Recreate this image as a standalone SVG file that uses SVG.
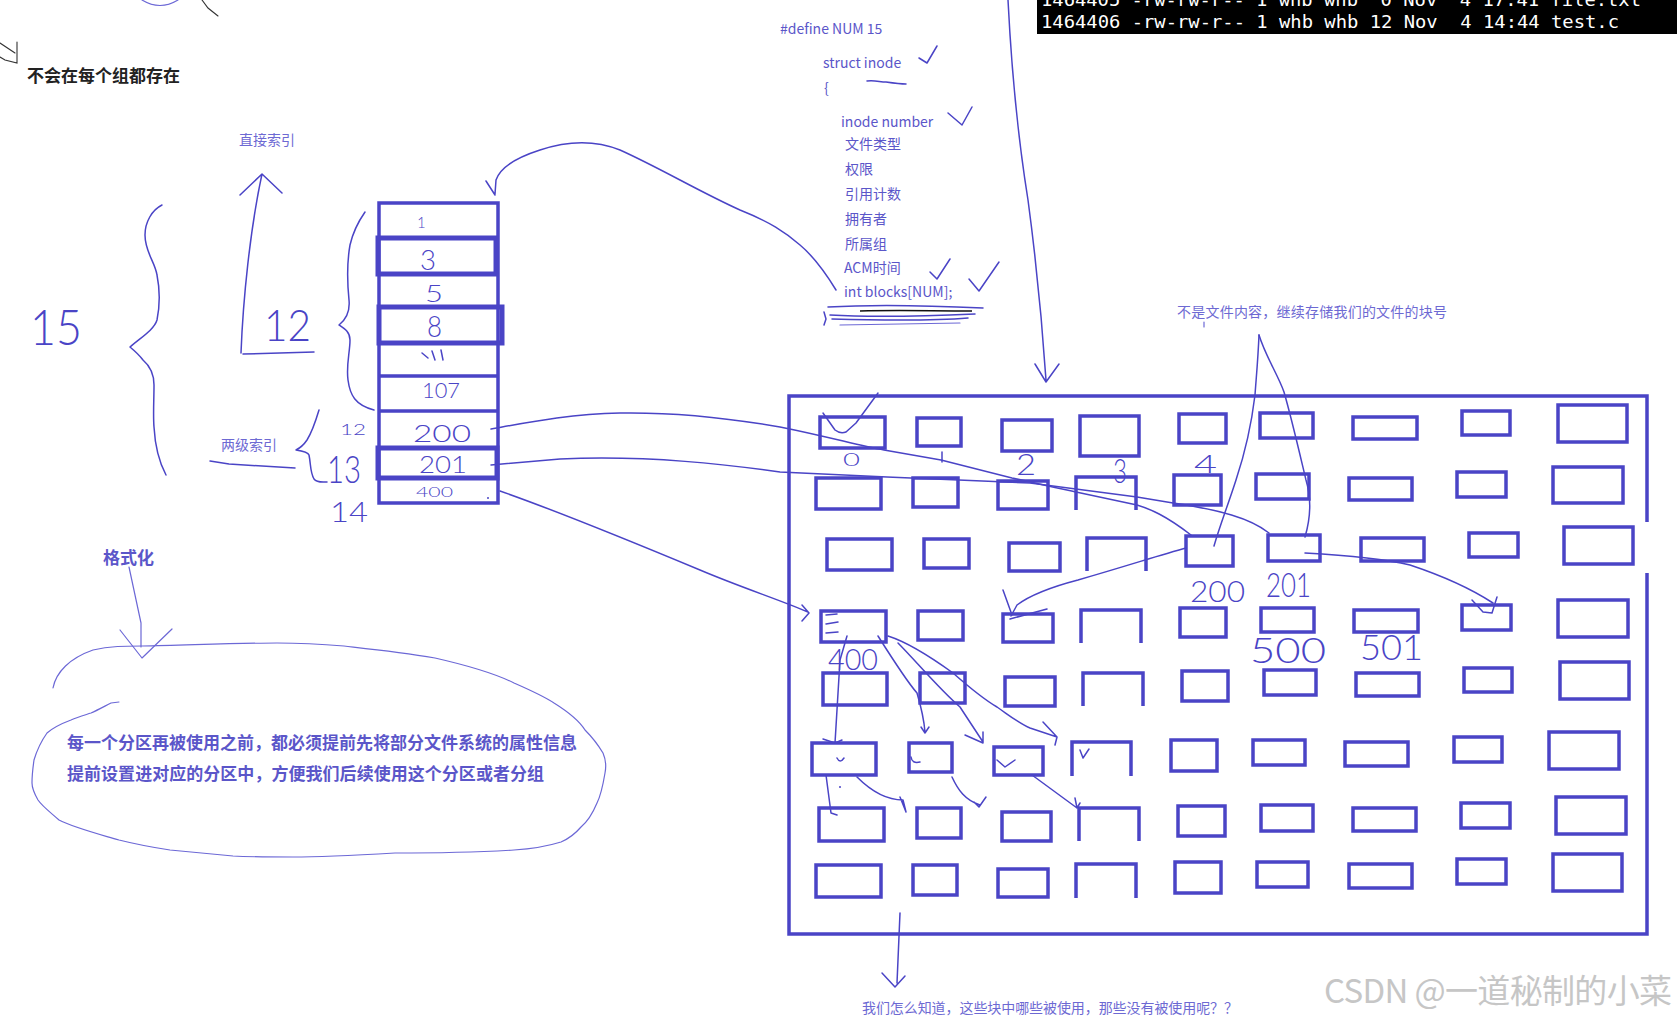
<svg xmlns="http://www.w3.org/2000/svg" width="1677" height="1021" viewBox="0 0 1677 1021">
<style>
.box{fill:none;stroke:#4a44c6;stroke-width:3.5}
.tb{fill:none;stroke:#4a44c6;stroke-width:3.5}
.tbk{fill:none;stroke:#4a44c6;stroke-width:5}
.pen{fill:none;stroke:#4a44c6;stroke-width:1.5;stroke-linecap:round;stroke-linejoin:round}
.thin{fill:none;stroke:#6c68d6;stroke-width:1.2;stroke-linecap:round;stroke-linejoin:round}
.dk{fill:none;stroke:#333;stroke-width:1.1;stroke-linecap:round}
.hand{font-family:Lato,Roboto,"DejaVu Sans",sans-serif;font-weight:300;fill:#4a44c6}
.t{font-family:"Noto Sans CJK SC","Noto Sans",sans-serif;font-size:14px;fill:#5b56c9}
.tl{font-family:"Noto Sans CJK SC","Noto Sans",sans-serif;font-size:14px;fill:#6d69d3}
.b{font-family:"Noto Sans CJK SC",sans-serif;font-size:17px;font-weight:bold}
.mono{font-family:"DejaVu Sans Mono","Liberation Mono",monospace;font-size:17px;fill:#fff;white-space:pre}
</style>

<g id="terminal">
<rect x="1037" y="0" width="640" height="34" fill="#000"/>
<text class="mono" x="1041" y="6" textLength="600" lengthAdjust="spacingAndGlyphs">1464405 -rw-rw-r-- 1 whb whb  0 Nov  4 17:41 file.txt</text>
<text class="mono" x="1041" y="28" textLength="578" lengthAdjust="spacingAndGlyphs">1464406 -rw-rw-r-- 1 whb whb 12 Nov  4 14:44 test.c</text>
</g>

<g id="top-left-marks">
<path class="thin" d="M142,0 Q160,11 178,0"/>
<path class="dk" d="M202,0 L208,8 L218,16"/>
<path class="dk" d="M0,43 L15,53 M17,42 L17,63 L5,60 L0,57"/>
<text class="b" x="27" y="82" fill="#222" textLength="153">不会在每个组都存在</text>
</g>

<g id="inode-struct">
<text class="t" x="780" y="34">#define NUM 15</text>
<text class="t" x="823" y="68">struct inode</text>
<text class="t" x="824" y="93" font-size="12">{</text>
<text class="t" x="841" y="127">inode number</text>
<text class="t" x="845" y="149">文件类型</text>
<text class="t" x="845" y="174">权限</text>
<text class="t" x="845" y="199">引用计数</text>
<text class="t" x="845" y="224">拥有者</text>
<text class="t" x="845" y="249">所属组</text>
<text class="t" x="844" y="273">ACM时间</text>
<text class="t" x="844" y="297">int blocks[NUM];</text>
<path class="pen" d="M919,58 L927,63 L937,46"/>
<path class="pen" d="M867,81 C875,80 880,82 886,82 C893,83 900,84 906,84"/>
<path class="pen" d="M948,113 L962,125 L972,107"/>
<path class="pen" d="M930,272 L937,279 L950,259"/>
<path class="pen" d="M969,279 L979,291 L999,262"/>
<path class="pen" d="M828,307 C860,305 900,304 983,308"/>
<path fill="none" stroke="#111" stroke-width="1.5" d="M860,311 C900,310 930,311 972,311"/>
<path class="pen" d="M830,315 C880,318 930,316 975,314"/>
<path class="pen" d="M832,319 C870,320 930,321 968,318"/>
<path class="thin" d="M840,325 L960,323"/>
<path class="pen" d="M824,312 L826,319 L824,325"/>
</g>

<g id="inode-table">
<rect class="tb" x="379" y="203" width="119" height="300"/>
<path class="tb" d="M379,274 H498 M379,376 H498 M379,411 H498"/>
<rect class="tbk" x="378" y="238" width="118" height="36"/>
<rect class="tbk" x="379" y="307" width="123" height="36"/>
<rect class="tbk" x="378" y="448" width="119" height="30"/>
<text class="hand" x="417" y="228" font-size="15" font-weight="400">1</text>
<text class="hand" x="420" y="270" font-size="27" textLength="16" lengthAdjust="spacingAndGlyphs">3</text>
<text class="hand" x="425" y="302" font-size="24" textLength="18" lengthAdjust="spacingAndGlyphs">5</text>
<text class="hand" x="427" y="337" font-size="29" textLength="15" lengthAdjust="spacingAndGlyphs">8</text>
<path class="pen" d="M422,353 L428,358 M432,351 L435,360 M441,350 L443,360"/>
<text class="hand" x="422" y="398" font-size="21" textLength="38" lengthAdjust="spacingAndGlyphs">107</text>
<text class="hand" x="413" y="442" font-size="24" textLength="58" lengthAdjust="spacingAndGlyphs">200</text>
<text class="hand" x="419" y="473" font-size="24" textLength="48" lengthAdjust="spacingAndGlyphs">201</text>
<text class="hand" x="416" y="497" font-size="14" font-weight="400" textLength="37" lengthAdjust="spacingAndGlyphs">400</text>
<circle cx="488" cy="498" r="1" fill="#4a44c6"/>
</g>

<g id="index-annotations">
<path class="pen" d="M162,205 C152,210 145,222 145,235 C145,252 155,262 157,275 C160,290 160,305 157,320 C154,330 140,338 130,347 C136,352 140,356 143,360 C150,366 154,375 154,385 C154,400 153,415 154,427 C155,445 158,460 166,475"/>
<text class="hand" x="30" y="345" font-size="50" textLength="52" lengthAdjust="spacingAndGlyphs">15</text>
<path class="pen" d="M241,353 C243,300 250,230 262,174 M240,195 L262,174 L282,193 M243,354 L314,352"/>
<text class="tl" x="239" y="145">直接索引</text>
<text class="hand" x="264" y="341" font-size="44" textLength="47" lengthAdjust="spacingAndGlyphs">12</text>
<path class="pen" d="M365,212 C358,222 353,232 350,245 C347,262 347,280 349,300 C350,310 348,318 339,325 C345,329 350,332 350,340 C350,352 346,365 348,380 C350,395 355,405 374,410"/>
<text class="tl" x="221" y="450">两级索引</text>
<path class="pen" d="M210,461 L229,464 L295,468"/>
<path class="pen" d="M319,410 C316,420 312,432 307,440 C303,446 298,449 296,450 C303,451 308,452 309,455 C311,465 310,472 314,479 C317,483 322,482 327,482"/>
<text class="hand" x="340" y="435" font-size="16" font-weight="400" textLength="26" lengthAdjust="spacingAndGlyphs">12</text>
<text class="hand" x="327" y="483" font-size="38" textLength="34" lengthAdjust="spacingAndGlyphs">13</text>
<text class="hand" x="330" y="522" font-size="28" textLength="38" lengthAdjust="spacingAndGlyphs">14</text>
</g>

<g id="format-note">
<text class="b" x="103" y="564" fill="#5b56c9">格式化</text>
<path class="thin" d="M129,567 L141,623 L141,647 M120,630 L142,658 L172,629"/>
<path class="thin" d="M53,688 C56,672 70,658 93,650 C110,646 125,646 142,646 C190,645 240,643 277,643 C300,643 320,644 344,646 C380,650 400,652 435,658 C470,666 500,676 514,683 C530,690 545,697 554,703 C570,713 580,722 585,730 C595,740 600,748 603,753 C606,760 606,768 605,773 C603,785 601,795 597,803 C592,815 587,822 581,827 C575,834 568,839 561,842 C545,847 530,849 514,850 C480,852 430,853 395,853 C360,855 320,857 293,857 C270,857 250,857 233,856 C210,854 190,852 170,850 C150,847 135,844 119,840 C95,833 75,828 59,820 C50,812 42,806 38,800 C34,793 32,788 32,783 C32,775 33,767 34,760 C37,750 42,740 47,733 C55,726 63,723 71,720 C78,717 85,715 91,713 C98,710 105,706 111,703 L119,702"/>
<text class="b" x="67" y="749" fill="#5b56c9" textLength="510">每一个分区再被使用之前，都必须提前先将部分文件系统的属性信息</text>
<text class="b" x="67" y="780" fill="#5b56c9" textLength="477">提前设置进对应的分区中，方便我们后续使用这个分区或者分组</text>
</g>

<g id="block-grid">
<path class="box" d="M1647,522 V396 H789 V934 H1647 V573"/>
<rect class="box" x="820" y="417" width="65" height="31"/>
<rect class="box" x="917" y="418" width="44" height="28"/>
<rect class="box" x="1002" y="420" width="50" height="31"/>
<rect class="box" x="1080" y="416" width="59" height="40"/>
<rect class="box" x="1179" y="414" width="47" height="29"/>
<rect class="box" x="1260" y="413" width="53" height="25"/>
<rect class="box" x="1353" y="417" width="64" height="22"/>
<rect class="box" x="1462" y="411" width="48" height="24"/>
<rect class="box" x="1558" y="405" width="69" height="37"/>

<rect class="box" x="816" y="478" width="65" height="31"/>
<rect class="box" x="913" y="478" width="45" height="29"/>
<rect class="box" x="998" y="481" width="50" height="28"/>
<path class="box" d="M1076,510 V477 H1136 V510"/>
<rect class="box" x="1174" y="475" width="47" height="30"/>
<rect class="box" x="1256" y="474" width="53" height="25"/>
<rect class="box" x="1349" y="478" width="63" height="22"/>
<rect class="box" x="1457" y="472" width="49" height="25"/>
<rect class="box" x="1553" y="467" width="70" height="36"/>

<rect class="box" x="827" y="539" width="65" height="31"/>
<rect class="box" x="924" y="539" width="45" height="29"/>
<rect class="box" x="1009" y="543" width="51" height="28"/>
<path class="box" d="M1087,571 V538 H1146 V571"/>
<rect class="box" x="1186" y="536" width="47" height="30"/>
<rect class="box" x="1268" y="535" width="52" height="26"/>
<rect class="box" x="1361" y="538" width="63" height="23"/>
<rect class="box" x="1469" y="533" width="49" height="24"/>
<rect class="box" x="1564" y="527" width="69" height="37"/>

<rect class="box" x="821" y="611" width="65" height="31"/>
<rect class="box" x="918" y="611" width="45" height="29"/>
<rect class="box" x="1003" y="614" width="50" height="28"/>
<path class="box" d="M1081,643 V610 H1141 V643"/>
<rect class="box" x="1180" y="608" width="46" height="29"/>
<rect class="box" x="1261" y="608" width="53" height="24"/>
<rect class="box" x="1354" y="610" width="64" height="22"/>
<rect class="box" x="1462" y="605" width="49" height="25"/>
<rect class="box" x="1558" y="600" width="70" height="37"/>

<rect class="box" x="823" y="673" width="64" height="32"/>
<rect class="box" x="920" y="673" width="45" height="30"/>
<rect class="box" x="1005" y="677" width="50" height="29"/>
<path class="box" d="M1083,706 V673 H1143 V706"/>
<rect class="box" x="1182" y="671" width="46" height="30"/>
<rect class="box" x="1264" y="670" width="52" height="25"/>
<rect class="box" x="1356" y="673" width="63" height="23"/>
<rect class="box" x="1464" y="668" width="48" height="24"/>
<rect class="box" x="1560" y="662" width="69" height="37"/>

<rect class="box" x="812" y="743" width="64" height="32"/>
<rect class="box" x="909" y="743" width="43" height="29"/>
<rect class="box" x="994" y="747" width="49" height="28"/>
<path class="box" d="M1072,776 V742 H1131 V776"/>
<rect class="box" x="1171" y="740" width="46" height="31"/>
<rect class="box" x="1253" y="740" width="52" height="25"/>
<rect class="box" x="1345" y="742" width="63" height="24"/>
<rect class="box" x="1454" y="737" width="48" height="25"/>
<rect class="box" x="1549" y="732" width="70" height="37"/>

<rect class="box" x="819" y="808" width="65" height="33"/>
<rect class="box" x="917" y="808" width="44" height="30"/>
<rect class="box" x="1002" y="812" width="49" height="29"/>
<path class="box" d="M1079,841 V808 H1139 V841"/>
<rect class="box" x="1178" y="806" width="47" height="30"/>
<rect class="box" x="1261" y="805" width="52" height="26"/>
<rect class="box" x="1353" y="808" width="63" height="23"/>
<rect class="box" x="1461" y="803" width="49" height="25"/>
<rect class="box" x="1556" y="797" width="70" height="37"/>

<rect class="box" x="816" y="865" width="65" height="32"/>
<rect class="box" x="913" y="865" width="44" height="30"/>
<rect class="box" x="998" y="869" width="50" height="28"/>
<path class="box" d="M1076,898 V864 H1136 V898"/>
<rect class="box" x="1175" y="862" width="46" height="31"/>
<rect class="box" x="1257" y="862" width="51" height="25"/>
<rect class="box" x="1349" y="864" width="63" height="24"/>
<rect class="box" x="1457" y="859" width="49" height="25"/>
<rect class="box" x="1553" y="854" width="69" height="37"/>
</g>

<g id="grid-labels">
<text class="hand" x="843" y="466" font-size="17" font-weight="400" textLength="17" lengthAdjust="spacingAndGlyphs">0</text>
<path class="pen" d="M942,452 L942,462"/>
<text class="hand" x="1016" y="475" font-size="30" textLength="20" lengthAdjust="spacingAndGlyphs">2</text>
<text class="hand" x="1113" y="483" font-size="34" textLength="14" lengthAdjust="spacingAndGlyphs">3</text>
<text class="hand" x="1194" y="473" font-size="25" textLength="23" lengthAdjust="spacingAndGlyphs">4</text>
<text class="hand" x="1190" y="602" font-size="30" textLength="55" lengthAdjust="spacingAndGlyphs">200</text>
<text class="hand" x="1266" y="597" font-size="34" textLength="45" lengthAdjust="spacingAndGlyphs">201</text>
<text class="hand" x="1250" y="663" font-size="36" textLength="76" lengthAdjust="spacingAndGlyphs">500</text>
<text class="hand" x="1360" y="660" font-size="36" textLength="63" lengthAdjust="spacingAndGlyphs">501</text>
<text class="hand" x="828" y="670" font-size="30" textLength="50" lengthAdjust="spacingAndGlyphs">400</text>
<path class="pen" d="M826,615 L837,614 M826,624 L838,622 M826,633 L838,632"/>
<path class="pen" d="M823,413 L835,430 Q840,434 846,432 L856,423 L878,393"/>
<path class="pen" d="M837,758 Q840,764 844,758 M911,757 Q912,764 920,762 M997,760 L1005,767 L1015,760 M1080,750 L1083,758 L1089,749"/>
<circle cx="840" cy="787" r="1" fill="#4a44c6"/>
</g>

<g id="connectors">
<path class="pen" d="M836,290 C825,272 812,255 800,245 C785,232 770,222 740,210 C700,192 660,168 620,150 C595,140 570,140 540,150 C515,158 500,168 496,180 L495,194 M486,181 L495,195"/>
<path class="pen" d="M1008,0 C1012,80 1020,150 1028,200 C1036,260 1042,320 1046,380 M1035,364 L1046,382 L1059,364"/>
<path class="pen" d="M491,429 C530,422 570,414 620,413 C680,412 740,420 780,427 C830,437 860,446 884,450 L941,460 L1012,478 C1040,484 1060,489 1076,492 L1137,505 C1150,509 1165,515 1191,535"/>
<path class="pen" d="M491,465 L560,459 C650,455 730,465 780,472 L887,477 L1030,483 L1137,497 L1173,503 C1220,510 1250,518 1269,533"/>
<path class="pen" d="M500,491 C560,512 640,545 700,570 C740,587 780,600 808,612 M802,605 L809,613 L802,621"/>
<path class="pen" d="M1259,335 C1258,360 1256,380 1255,395 C1252,420 1246,450 1236,480 C1228,505 1220,525 1214,546"/>
<path class="pen" d="M1259,335 C1265,355 1278,375 1284,392 C1292,420 1300,455 1306,480 C1312,500 1310,520 1305,537"/>
<path class="pen" d="M1186,548 C1160,555 1130,565 1078,580 C1055,586 1033,593 1017,605 L1011,616 M1003,590 L1012,615 M1010,619 L1047,609"/>
<path class="pen" d="M1305,553 C1340,555 1380,558 1410,565 C1440,575 1470,588 1493,603 M1472,600 L1483,612 L1492,613 L1497,597"/>
<path class="pen" d="M847,636 L840,660 L835,743 M823,739 L835,743 L842,740"/>
<path class="pen" d="M878,636 C890,655 910,685 917,693 C922,710 924,720 925,732 M921,727 L925,733 L929,727"/>
<path class="pen" d="M898,643 C915,660 940,690 960,707 L983,742 M965,735 L983,743 L983,732"/>
<path class="pen" d="M888,636 C910,643 935,660 953,673 C970,688 985,700 997,707 C1010,716 1020,724 1030,728 L1057,737 M1043,722 L1057,737 L1055,745"/>
<path class="pen" d="M826,775 L831,813 L837,815"/>
<path class="pen" d="M857,777 Q880,800 903,800 L906,812 M900,797 L906,812"/>
<path class="pen" d="M952,777 C958,790 965,800 980,805 M974,802 L979,807 L986,797"/>
<path class="pen" d="M1032,775 L1077,808 M1075,798 L1077,808 L1080,803"/>
<path class="pen" d="M900,913 L897,983 M882,973 L895,987 L905,976"/>
<path class="thin" d="M1204,322 L1204,327"/>
</g>

<g id="notes">
<text class="tl" x="1177" y="317" textLength="270">不是文件内容，继续存储我们的文件的块号</text>
<text class="tl" x="862" y="1013" textLength="376">我们怎么知道，这些块中哪些被使用，那些没有被使用呢？？</text>
<text x="1324" y="1003" font-family="'Noto Sans CJK SC',sans-serif" font-size="33" fill="#c6c6c6" textLength="348">CSDN @一道秘制的小菜</text>
</g>
</svg>
